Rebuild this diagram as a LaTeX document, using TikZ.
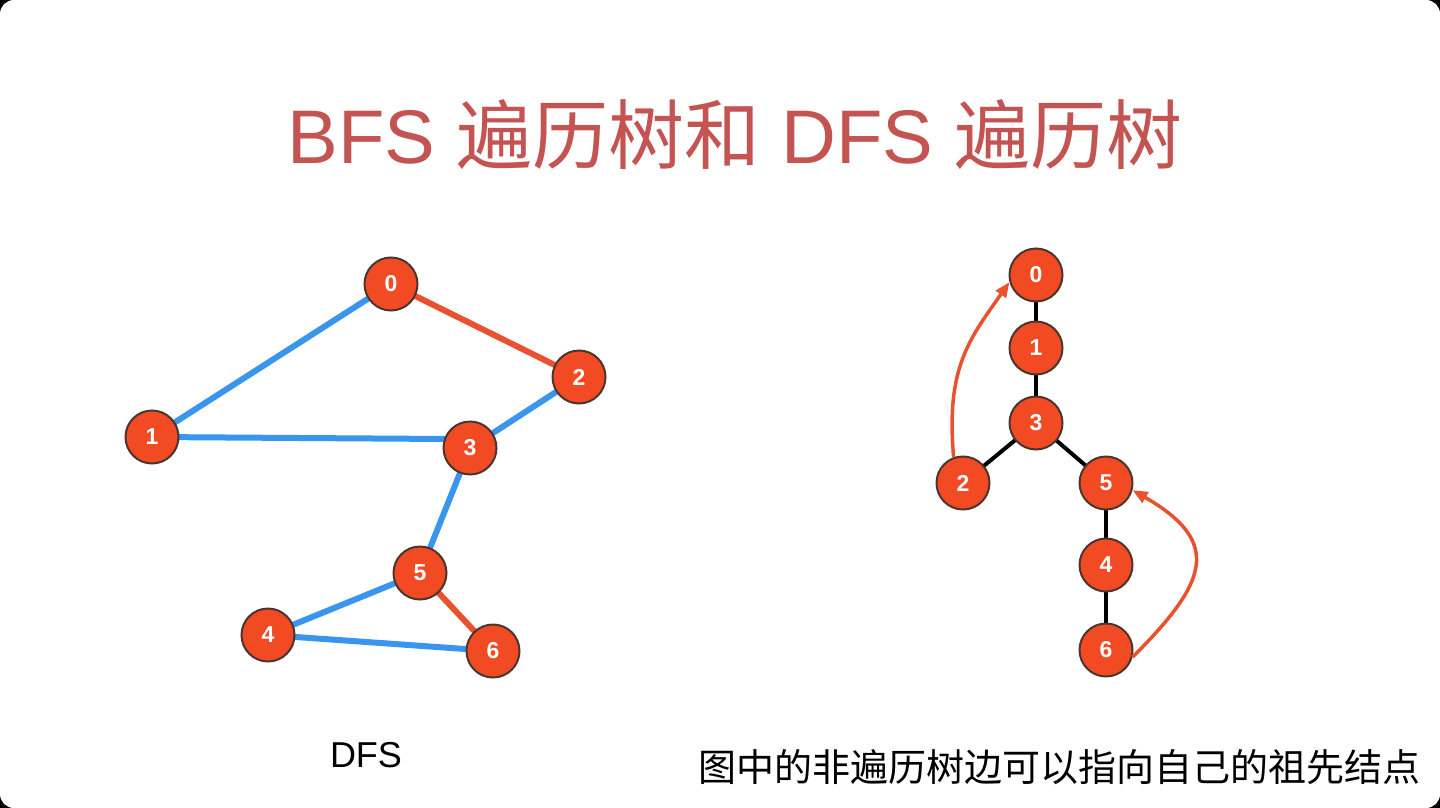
\documentclass[tikz,border=0pt]{standalone}
\usepackage{fontspec}
\setmainfont{Liberation Sans}
\newfontfamily\cjk{Noto Sans CJK SC}
\usetikzlibrary{arrows.meta}
\definecolor{nodefill}{HTML}{F24A22}
\definecolor{nodeline}{HTML}{4A3530}
\definecolor{edgeblue}{HTML}{3A96EC}
\definecolor{edgered}{HTML}{E8522E}
\definecolor{titlered}{HTML}{C45452}
\tikzset{
  vtx/.style={circle, fill=nodefill, draw=nodeline, line width=2pt, minimum size=53pt, inner sep=0pt,
    text=white, font=\fontsize{23}{23}\selectfont\bfseries},
  blueedge/.style={draw=edgeblue, line width=6pt},
  rededge/.style={draw=edgered, line width=6pt},
  treeedge/.style={draw=black, line width=4pt},
  backarrow/.style={draw=edgered, line width=3.5pt, -{Triangle[length=15pt,width=12pt]}},
}
\begin{document}
\begin{tikzpicture}[x=1pt,y=-1pt]
\useasboundingbox (0,0) rectangle (1440,808);
\fill[black] (0,0) rectangle (1440,808);
\fill[white, rounded corners=14pt] (0,0) rectangle (1440,808);

\node[text=titlered, font=\fontsize{76}{76}\selectfont] (title) at (735,135)
  {BFS {\cjk 遍历树和} DFS {\cjk 遍历树}};

% left graph: positions first, edges, then nodes on top
\coordinate (q0) at (391,284);
\coordinate (q1) at (152,437);
\coordinate (q2) at (579,377);
\coordinate (q3) at (470,448);
\coordinate (q5) at (420,573);
\coordinate (q4) at (268,635);
\coordinate (q6) at (493,651);
\coordinate (q3w) at (447,439);
\draw[blueedge] (q0) -- (q1);
\draw[rededge] (q0) -- (q2);
\draw[blueedge] (q1) -- (q3w);
\draw[blueedge] (q2) -- (q3);
\draw[blueedge] (q3) -- (q5);
\draw[blueedge] (q5) -- (q4);
\draw[rededge] (q5) -- (q6);
\draw[blueedge] (q4) -- (q6);
\node[vtx] (a0) at (q0) {0};
\node[vtx] (a1) at (q1) {1};
\node[vtx] (a2) at (q2) {2};
\node[vtx] (a3) at (q3) {3};
\node[vtx] (a5) at (q5) {5};
\node[vtx] (a4) at (q4) {4};
\node[vtx] (a6) at (q6) {6};

\node[font=\fontsize{36}{36}\selectfont] (dfs) at (366,755) {DFS};

% right tree
\coordinate (p0) at (1036,275);
\coordinate (p1) at (1036,348);
\coordinate (p3) at (1036,423);
\coordinate (p2) at (963,483);
\coordinate (p5) at (1106,483);
\coordinate (p4) at (1106,565);
\coordinate (p6) at (1106,650);
\draw[treeedge] (p0) -- (p1);
\draw[treeedge] (p1) -- (p3);
\draw[treeedge] (p3) -- (p2);
\draw[treeedge] (p3) -- (p5);
\draw[treeedge] (p5) -- (p4);
\draw[treeedge] (p4) -- (p6);
\node[vtx] (b0) at (p0) {0};
\node[vtx] (b1) at (p1) {1};
\node[vtx] (b3) at (p3) {3};
\node[vtx] (b2) at (p2) {2};
\node[vtx] (b5) at (p5) {5};
\node[vtx] (b4) at (p4) {4};
\node[vtx] (b6) at (p6) {6};
% y axis points down: written angle = minus visual angle
\draw[backarrow] (b2.110) .. controls +(-95:90) and +(125:70) .. (b0.195);
\draw[backarrow] (b6.345) .. controls +(-45:105) and +(30:105) .. (b5.345);

\node[anchor=west, font=\fontsize{38}{38}\selectfont\cjk] (note) at (695,767)
  {图中的非遍历树边可以指向自己的祖先结点};
\end{tikzpicture}
\end{document}
